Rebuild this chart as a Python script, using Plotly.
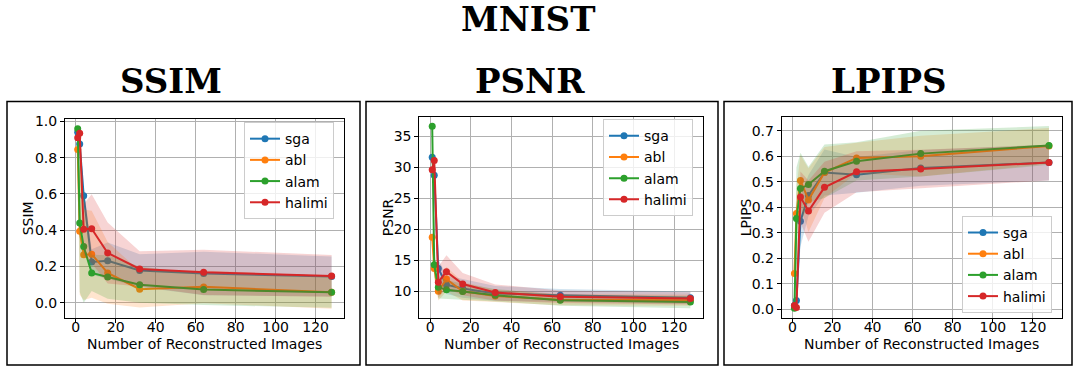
import numpy as np
import plotly.graph_objects as go

# ---------------- data ----------------
n_images = [1, 2, 4, 8, 16, 32, 64, 128]
methods = ["sga", "abl", "alam", "halimi"]
colors = ["#1f77b4", "#ff7f0e", "#2ca02c", "#d62728"]
fill_colors = ["rgba(31,119,180,0.2)", "rgba(255,127,14,0.2)",
               "rgba(44,160,44,0.2)", "rgba(214,39,40,0.2)"]

# SSIM means / std
ssim_sga = [0.94, 0.875, 0.59, 0.225, 0.232, 0.178, 0.162, 0.145]
ssim_abl = [0.845, 0.395, 0.265, 0.268, 0.165, 0.075, 0.088, 0.058]
ssim_alam = [0.96, 0.44, 0.31, 0.165, 0.142, 0.10, 0.073, 0.058]
ssim_halimi = [0.91, 0.935, 0.405, 0.408, 0.275, 0.187, 0.168, 0.148]
ssim_sga_std = [0.02, 0.04, 0.05, 0.07, 0.10, 0.09, 0.12, 0.11]
ssim_abl_std = [0.05, 0.35, 0.25, 0.24, 0.17, 0.10, 0.09, 0.09]
ssim_alam_std = [0.003, 0.38, 0.31, 0.10, 0.12, 0.10, 0.085, 0.085]
ssim_halimi_std = [0.02, 0.03, 0.14, 0.19, 0.168, 0.097, 0.125, 0.115]

# PSNR means / std
psnr_sga = [31.6, 28.7, 13.7, 11.1, 10.5, 9.7, 9.4, 9.0]
psnr_abl = [18.75, 13.7, 10.05, 12.0, 10.05, 9.3, 8.7, 8.6]
psnr_alam = [36.6, 14.3, 10.7, 10.3, 10.0, 9.4, 8.6, 8.3]
psnr_halimi = [29.6, 31.1, 11.5, 13.2, 11.2, 9.85, 9.15, 8.9]
psnr_sga_std = [0.5, 1.0, 1.5, 1.5, 1.5, 1.2, 1.0, 1.0]
psnr_abl_std = [1.0, 1.5, 1.5, 2.0, 1.5, 1.0, 0.9, 0.9]
psnr_alam_std = [0.03, 2.0, 1.8, 1.5, 1.3, 1.0, 0.9, 1.0]
psnr_halimi_std = [1.0, 0.8, 2.5, 2.65, 1.8, 1.3, 1.0, 1.0]

# LPIPS means / std
lpips_sga = [0.015, 0.035, 0.345, 0.446, 0.536, 0.527, 0.554, 0.575]
lpips_abl = [0.14, 0.375, 0.505, 0.428, 0.536, 0.593, 0.60, 0.64]
lpips_alam = [0.004, 0.356, 0.473, 0.489, 0.541, 0.58, 0.61, 0.642]
lpips_halimi = [0.015, 0.007, 0.44, 0.385, 0.478, 0.539, 0.55, 0.575]
lpips_sga_std = [0.01, 0.03, 0.10, 0.08, 0.09, 0.07, 0.07, 0.07]
lpips_abl_std = [0.05, 0.10, 0.10, 0.125, 0.10, 0.06, 0.08, 0.07]
lpips_alam_std = [0.0, 0.20, 0.14, 0.07, 0.105, 0.075, 0.09, 0.076]
lpips_halimi_std = [0.01, 0.005, 0.10, 0.12, 0.10, 0.08, 0.075, 0.07]

x_ticks = [0, 20, 40, 60, 80, 100, 120]
ssim_ticks = [0.0, 0.2, 0.4, 0.6, 0.8, 1.0]
psnr_ticks = [10, 15, 20, 25, 30, 35]
lpips_ticks = [0.0, 0.1, 0.2, 0.3, 0.4, 0.5, 0.6, 0.7]

panels = [
    dict(name="SSIM", means=[ssim_sga, ssim_abl, ssim_alam, ssim_halimi],
         stds=[ssim_sga_std, ssim_abl_std, ssim_alam_std, ssim_halimi_std],
         ticks=ssim_ticks, fmt=".1f", yrange=[-0.081, 1.0125]),
    dict(name="PSNR", means=[psnr_sga, psnr_abl, psnr_alam, psnr_halimi],
         stds=[psnr_sga_std, psnr_abl_std, psnr_alam_std, psnr_halimi_std],
         ticks=psnr_ticks, fmt="d", yrange=[5.82, 38.1]),
    dict(name="LPIPS", means=[lpips_sga, lpips_abl, lpips_alam, lpips_halimi],
         stds=[lpips_sga_std, lpips_abl_std, lpips_alam_std, lpips_halimi_std],
         ticks=lpips_ticks, fmt=".1f", yrange=[-0.032, 0.754]),
]

# ---------------- layout geometry (pixels) ----------------
W, H = 1074, 368
plot_px = [  # left, right, top, bottom
    (65, 344.3, 115, 316.7),
    (419.3, 703.3, 112.7, 316.7),
    (781.7, 1061.7, 112.7, 316.7),
]
box_px = [(7, 360, 97, 365), (366, 718, 97, 365), (724, 1072, 97, 365)]
title_cx = [171, 530, 889]
ytitle_cx = [28, 388, 746]
legend_pos = [(244, 118, "top"), (603, 115, "top"), (962, 312, "bottom")]


def px(x):
    return x / W


def py(y):
    return 1 - y / H


fig = go.Figure()
layout = dict(
    width=W, height=H, margin=dict(l=0, r=0, t=0, b=0),
    paper_bgcolor="white", plot_bgcolor="white",
    font=dict(family="DejaVu Sans", size=14, color="black"),
    shapes=[], annotations=[],
)

xs = np.array(n_images, dtype=float)
for k, p in enumerate(panels):
    ax = "" if k == 0 else str(k + 1)
    leg = "legend" if k == 0 else f"legend{k + 1}"
    for i, m in enumerate(methods):
        mean = np.array(p["means"][i])
        std = np.array(p["stds"][i])
        upper = mean + std
        lower = mean - std
        fig.add_trace(go.Scatter(
            x=np.concatenate([xs, xs[::-1]]),
            y=np.concatenate([upper, lower[::-1]]),
            fill="toself", fillcolor=fill_colors[i], line=dict(width=0),
            mode="lines", hoverinfo="skip", showlegend=False,
            xaxis="x" + ax, yaxis="y" + ax))
        fig.add_trace(go.Scatter(
            x=xs, y=mean, mode="lines+markers", name=m,
            line=dict(color=colors[i], width=2),
            marker=dict(color=colors[i], size=7),
            legend=leg, legendgroup=f"{p['name']}_{m}",
            xaxis="x" + ax, yaxis="y" + ax))

    l, r, t, b = plot_px[k]
    common = dict(showline=True, linecolor="black", linewidth=1, mirror=True,
                  ticks="outside", ticklen=4, tickcolor="black", tickwidth=1,
                  showgrid=True, gridcolor="#b0b0b0", gridwidth=1,
                  zeroline=False, tickfont=dict(size=14, color="black"))
    layout["xaxis" + ax] = dict(domain=[px(l), px(r)], range=[-5.35, 134.35],
                                tickvals=x_ticks, anchor="y" + ax,
                                ticklabelstandoff=-7, **common)
    yax = dict(domain=[py(b), py(t)], range=p["yrange"], tickvals=p["ticks"],
               anchor="x" + ax, **common)
    if p["fmt"] != "d":
        yax["tickformat"] = p["fmt"]
    layout["yaxis" + ax] = yax

    bx0, bx1, by0, by1 = box_px[k]
    layout["shapes"].append(dict(type="rect", xref="paper", yref="paper",
                                 x0=px(bx0), x1=px(bx1), y0=py(by1), y1=py(by0),
                                 line=dict(color="black", width=1.5)))
    layout["annotations"].append(dict(
        text=p["name"], x=px(title_cx[k]), y=py(76), xref="paper", yref="paper",
        xanchor="center", yanchor="middle", showarrow=False,
        font=dict(family="DejaVu Serif", size=34, color="black", weight="bold")))
    layout["annotations"].append(dict(
        text=p["name"], x=px(ytitle_cx[k]), y=py((t + b) / 2), xref="paper", yref="paper",
        xanchor="center", yanchor="middle", showarrow=False, textangle=-90,
        font=dict(size=14, color="black")))
    layout["annotations"].append(dict(
        text="Number of Reconstructed Images", x=px((l + r) / 2), y=py(344),
        xref="paper", yref="paper", xanchor="center", yanchor="middle",
        showarrow=False, font=dict(size=14, color="black")))
    lx, ly, anc = legend_pos[k]
    layout[leg] = dict(x=px(lx), y=py(ly), xanchor="left", yanchor=anc,
                       xref="paper", yref="paper",
                       bgcolor="rgba(255,255,255,0.8)", bordercolor="#cccccc",
                       borderwidth=1, tracegroupgap=0,
                       font=dict(size=14, color="black"))

layout["annotations"].append(dict(
    text="MNIST", x=px(528), y=py(13), xref="paper", yref="paper",
    xanchor="center", yanchor="middle", showarrow=False,
    font=dict(family="DejaVu Serif", size=34, color="black", weight="bold")))

fig.update_layout(**layout)
fig.write_html("out.html")
